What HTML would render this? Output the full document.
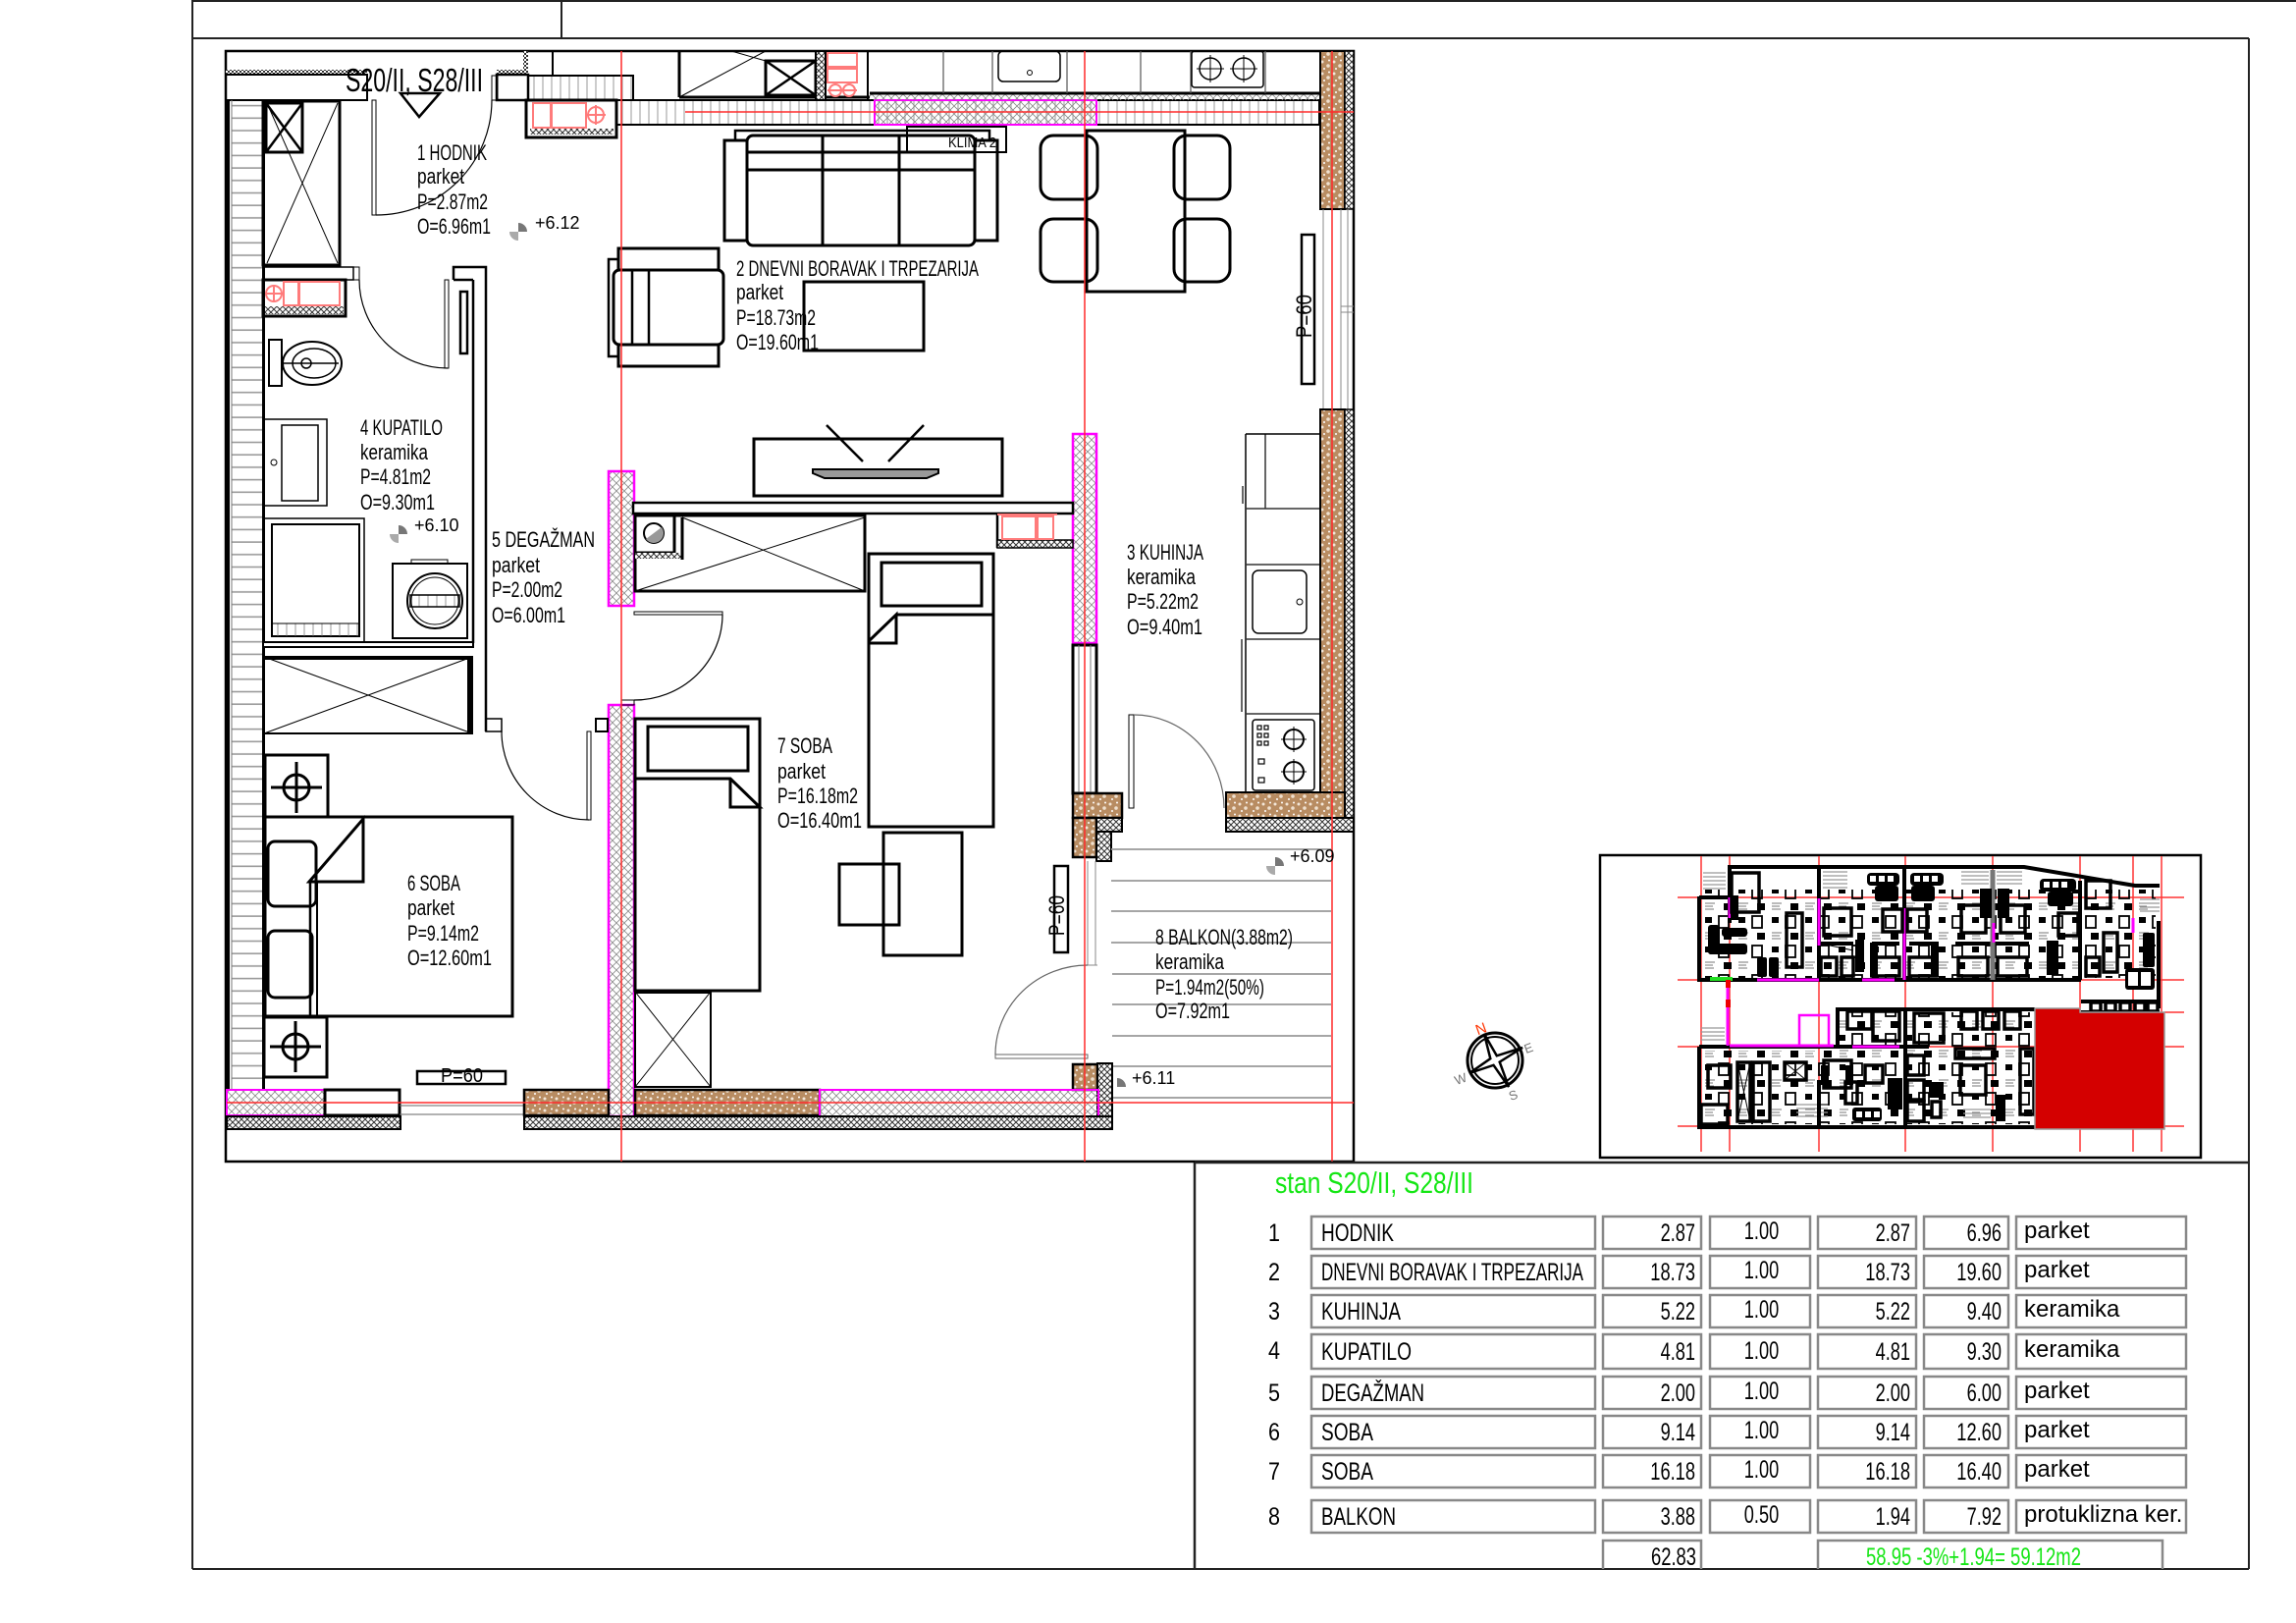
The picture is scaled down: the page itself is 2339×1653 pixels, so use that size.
<!DOCTYPE html>
<html><head><meta charset="utf-8"><title>stan S20/II, S28/III</title>
<style>
html,body{margin:0;padding:0;background:#fff;overflow:hidden}
svg{display:block}
text{font-family:"Liberation Sans",Arial,sans-serif;fill:#000}
.lb{font-size:22px}
.lv{font-size:18px}
.tn{font-size:25px}
.tm{font-size:24px}
</style></head><body>
<svg width="2339" height="1653" viewBox="0 0 2339 1653" xmlns="http://www.w3.org/2000/svg">
<defs>
 <pattern id="vh" width="9" height="10" patternUnits="userSpaceOnUse"><line x1="4" y1="0" x2="4" y2="10" stroke="#9a9a9a" stroke-width="1"/></pattern>
 <pattern id="hh" width="10" height="12.7" patternUnits="userSpaceOnUse"><line x1="0" y1="6" x2="10" y2="6" stroke="#9a9a9a" stroke-width="1.6"/></pattern>
 <pattern id="xh" width="8" height="8" patternUnits="userSpaceOnUse"><path d="M0,0L8,8M8,0L0,8" stroke="#8a8a8a" stroke-width="0.8"/></pattern>
 <pattern id="zz" width="6" height="6" patternUnits="userSpaceOnUse"><rect width="6" height="6" fill="#fff"/><path d="M0,0L6,6M6,0L0,6" stroke="#333" stroke-width="1"/></pattern>
 <pattern id="br" width="12" height="12" patternUnits="userSpaceOnUse"><rect width="12" height="12" fill="#b88c62"/><circle cx="3" cy="3" r="1.5" fill="#f3e6d8"/><circle cx="9" cy="7" r="1.8" fill="#efe0cf"/><circle cx="5" cy="10" r="1" fill="#fff"/><circle cx="10" cy="1.5" r="1" fill="#fff"/></pattern>
 <pattern id="dt" width="4" height="4" patternUnits="userSpaceOnUse"><rect width="4" height="4" fill="#fff"/><rect width="2" height="2" fill="#333"/><rect x="2" y="2" width="2" height="2" fill="#333"/></pattern>
 <pattern id="mm2" width="34" height="30" patternUnits="userSpaceOnUse">
  <rect x="3" y="4" width="7" height="6" fill="#000"/>
  <rect x="17" y="3" width="10" height="12" fill="none" stroke="#000" stroke-width="1.8"/>
  <path d="M3,20H13M3,23H11M3,26H12" stroke="#777" stroke-width="1"/>
  <rect x="22" y="20" width="8" height="7" fill="#000"/>
 </pattern>
</defs>

<!-- page frame -->
<g stroke="#222" stroke-width="2" fill="none">
 <line x1="196" y1="0" x2="196" y2="1598"/>
 <line x1="196" y1="1" x2="2339" y2="1"/>
 <line x1="572" y1="0" x2="572" y2="39"/>
 <line x1="196" y1="39" x2="2291" y2="39"/>
 <line x1="2291" y1="39" x2="2291" y2="1598"/>
 <line x1="196" y1="1598" x2="2291" y2="1598"/>
</g>

<!-- PLAN -->
<rect x="230" y="52" width="1149" height="1131" fill="none" stroke="#000" stroke-width="2.5"/>

<g fill="none" stroke="#000">
 <rect x="230" y="71" width="144" height="5" fill="url(#dt)" stroke="none"/>
 <rect x="506" y="71" width="32" height="5" fill="url(#dt)" stroke="none"/>
 <rect x="533" y="52" width="5" height="24" fill="url(#dt)" stroke="none"/>
 <rect x="230" y="76" width="144" height="26" stroke-width="2"/>
 <rect x="506" y="76" width="32" height="26" stroke-width="2.5"/>
 <rect x="501" y="77" width="6" height="25" stroke-width="1"/>
 <rect x="379" y="102" width="4" height="117" stroke-width="1"/>
 <path d="M501,102 A118 117 0 0 1 383 219" stroke-width="1.2"/>
 <line x1="563" y1="52" x2="563" y2="77" stroke-width="2"/>
 <rect x="538" y="77" width="107" height="25" fill="url(#vh)" stroke-width="2"/>
 <rect x="620" y="102" width="724" height="25" fill="url(#vh)" stroke-width="2"/>
 <rect x="891" y="102" width="226" height="25" fill="url(#xh)" stroke="#f0f" stroke-width="2"/>
 <rect x="536" y="102" width="92" height="38" fill="#fff" stroke-width="3"/>
 <rect x="540" y="131" width="85" height="6" fill="url(#zz)" stroke="none"/>
 <g stroke="#ff7b7b" stroke-width="2">
  <rect x="543" y="105" width="18" height="25"/>
  <rect x="562" y="105" width="35" height="25"/>
  <circle cx="607" cy="117" r="8"/>
  <line x1="597" y1="117" x2="617" y2="117"/><line x1="607" y1="107" x2="607" y2="127"/>
 </g>
 <line x1="692" y1="52" x2="692" y2="99" stroke-width="3"/>
 <line x1="692" y1="99" x2="886" y2="99" stroke-width="3"/>
 <line x1="692" y1="99" x2="780" y2="52" stroke-width="1"/>
 <line x1="745" y1="52" x2="780" y2="62" stroke-width="1"/>
 <rect x="780" y="62" width="51" height="35" stroke-width="3"/>
 <path d="M780,62 L831,97 M831,62 L780,97" stroke-width="2.5"/>
 <rect x="831" y="52" width="10" height="50" fill="url(#zz)" stroke-width="2"/>
 <g stroke="#ff7b7b" stroke-width="2">
  <rect x="843" y="54" width="30" height="14"/>
  <rect x="843" y="70" width="30" height="14"/>
  <circle cx="851" cy="92" r="6"/><circle cx="865" cy="92" r="6"/>
  <line x1="843" y1="92" x2="873" y2="92"/>
 </g>
 <line x1="884" y1="52" x2="884" y2="102" stroke-width="2"/>
 <rect x="886" y="95" width="458" height="7" fill="url(#xh)" stroke="none"/>
 <line x1="886" y1="95" x2="1344" y2="95" stroke-width="3"/>
 <g stroke="#555" stroke-width="1.2">
  <line x1="961" y1="52" x2="961" y2="95"/><line x1="1011" y1="52" x2="1011" y2="95"/>
  <line x1="1087" y1="52" x2="1087" y2="95"/><line x1="1162" y1="52" x2="1162" y2="95"/>
  <line x1="1213" y1="52" x2="1213" y2="95"/><line x1="1289" y1="52" x2="1289" y2="95"/>
 </g>
 <rect x="1017" y="52" width="63" height="31" rx="5" stroke-width="1.5"/>
 <circle cx="1049" cy="74" r="2.5" stroke-width="1"/>
 <rect x="1214" y="52" width="73" height="37" rx="3" stroke-width="1.5"/>
 <circle cx="1233" cy="70" r="11" stroke-width="1.5"/><circle cx="1267" cy="70" r="11" stroke-width="1.5"/>
 <path d="M1233,56V84M1219,70H1247M1267,56V84M1253,70H1281" stroke-width="1"/>

 <rect x="1345" y="52" width="25" height="161" fill="url(#br)" stroke-width="2"/>
 <rect x="1370" y="52" width="9" height="161" fill="url(#zz)" stroke-width="1.5"/>
 <g stroke="#888" stroke-width="1">
  <line x1="1348" y1="213" x2="1348" y2="417"/><line x1="1366" y1="213" x2="1366" y2="417"/><line x1="1373" y1="213" x2="1373" y2="417"/>
  <line x1="1366" y1="312" x2="1379" y2="312"/><line x1="1366" y1="318" x2="1379" y2="318"/>
 </g>
 <rect x="1345" y="417" width="25" height="416" fill="url(#br)" stroke-width="2"/>
 <rect x="1370" y="417" width="9" height="430" fill="url(#zz)" stroke-width="1.5"/>
 <rect x="1249" y="807" width="121" height="26" fill="url(#br)" stroke-width="2"/>
 <rect x="1249" y="833" width="130" height="14" fill="url(#zz)" stroke-width="2"/>
 <rect x="1326" y="239" width="13" height="152" stroke-width="2.5"/>

 <rect x="749" y="133" width="259" height="10" stroke-width="2.5"/>
 <rect x="738" y="143" width="23" height="102" stroke-width="3"/>
 <rect x="993" y="143" width="23" height="102" stroke-width="3"/>
 <rect x="761" y="138" width="232" height="112" rx="6" fill="#fff" stroke-width="3"/>
 <line x1="838" y1="138" x2="838" y2="250" stroke-width="3"/>
 <line x1="916" y1="138" x2="916" y2="250" stroke-width="3"/>
 <line x1="761" y1="155" x2="993" y2="155" stroke-width="3"/>
 <line x1="761" y1="173" x2="993" y2="173" stroke-width="3"/>
 <rect x="924" y="129" width="101" height="26" stroke-width="2"/>
 <rect x="1060" y="138" width="58" height="65" rx="13" stroke-width="3"/>
 <rect x="1060" y="223" width="58" height="64" rx="13" stroke-width="3"/>
 <rect x="1196" y="138" width="57" height="65" rx="13" stroke-width="3"/>
 <rect x="1196" y="223" width="57" height="64" rx="13" stroke-width="3"/>
 <rect x="1107" y="133" width="100" height="164" stroke-width="3"/>
 <rect x="630" y="253" width="102" height="120" stroke-width="3"/>
 <rect x="620" y="264" width="10" height="99" stroke-width="2.5"/>
 <rect x="625" y="275" width="112" height="76" rx="6" fill="#fff" stroke-width="3"/>
 <line x1="644" y1="275" x2="644" y2="351" stroke-width="2.5"/>
 <line x1="661" y1="275" x2="661" y2="351" stroke-width="2.5"/>
 <rect x="819" y="287" width="122" height="70" stroke-width="3"/>
 <rect x="768" y="447" width="253" height="58" stroke-width="3"/>
 <path d="M828,478 H956 V482 L944,487 H840 L828,482 Z" fill="#999" stroke-width="2"/>
 <path d="M842,433 L879,470 M941,433 L905,470" stroke-width="2.5"/>

 <rect x="1093" y="442" width="24" height="213" fill="url(#xh)" stroke="#f0f" stroke-width="2.5"/>
 <rect x="620" y="480" width="26" height="137" fill="url(#xh)" stroke="#f0f" stroke-width="2.5"/>
 <rect x="620" y="718" width="26" height="419" fill="url(#xh)" stroke="#f0f" stroke-width="2.5"/>

 <path d="M1269,442 H1344 M1269,442 V807" stroke-width="1.5"/>
 <line x1="1289" y1="442" x2="1289" y2="518" stroke-width="1.2"/>
 <g stroke="#333" stroke-width="1.5">
  <line x1="1269" y1="518" x2="1344" y2="518"/><line x1="1269" y1="575" x2="1344" y2="575"/>
  <line x1="1269" y1="651" x2="1344" y2="651"/><line x1="1269" y1="727" x2="1344" y2="727"/>
  <line x1="1265" y1="651" x2="1265" y2="725"/><line x1="1266" y1="495" x2="1266" y2="513"/>
 </g>
 <rect x="1276" y="581" width="55" height="64" rx="6" stroke-width="1.5"/>
 <circle cx="1324" cy="613" r="3" stroke-width="1"/>
 <rect x="1276" y="733" width="63" height="72" rx="3" stroke-width="1.5"/>
 <circle cx="1318" cy="753" r="10" stroke-width="2"/><circle cx="1318" cy="786" r="10" stroke-width="2"/>
 <path d="M1318,740V766M1305,753H1331M1318,773V799M1305,786H1331" stroke-width="1"/>
 <g stroke-width="1.2"><rect x="1281" y="739" width="4" height="4"/><rect x="1288" y="739" width="4" height="4"/><rect x="1281" y="747" width="4" height="4"/><rect x="1288" y="747" width="4" height="4"/><rect x="1281" y="755" width="4" height="4"/><rect x="1288" y="755" width="4" height="4"/><rect x="1282" y="773" width="6" height="5"/><rect x="1282" y="792" width="6" height="5"/></g>
 <rect x="1150" y="728" width="5" height="95" stroke-width="1"/>
 <path d="M1155,728 A92 95 0 0 1 1247 823" stroke="#666" stroke-width="1.2"/>

 <rect x="1093" y="657" width="24" height="151" fill="#fff" stroke-width="3"/>
 <line x1="1099" y1="657" x2="1099" y2="808" stroke="#777" stroke-width="1"/>
 <line x1="1111" y1="657" x2="1111" y2="808" stroke="#777" stroke-width="1"/>
 <rect x="1093" y="808" width="50" height="25" fill="url(#br)" stroke-width="2.5"/>
 <rect x="1093" y="833" width="24" height="40" fill="url(#br)" stroke-width="2.5"/>
 <rect x="1117" y="833" width="26" height="14" fill="url(#zz)" stroke-width="2"/>
 <rect x="1117" y="847" width="15" height="30" fill="url(#zz)" stroke-width="2"/>
 <g stroke="#888" stroke-width="1">
  <line x1="1108" y1="877" x2="1108" y2="983"/><line x1="1116" y1="877" x2="1116" y2="983"/>
  <line x1="1108" y1="983" x2="1118" y2="983"/>
 </g>
 <g stroke="#999" stroke-width="1.8">
  <line x1="1132" y1="865" x2="1356" y2="865"/><line x1="1132" y1="897" x2="1356" y2="897"/>
  <line x1="1132" y1="928" x2="1356" y2="928"/><line x1="1132" y1="960" x2="1356" y2="960"/>
  <line x1="1133" y1="992" x2="1356" y2="992"/><line x1="1133" y1="1023" x2="1356" y2="1023"/>
  <line x1="1133" y1="1055" x2="1356" y2="1055"/><line x1="1133" y1="1086" x2="1356" y2="1086"/>
  <line x1="1133" y1="1118" x2="1356" y2="1118"/>
 </g>
 <rect x="1014" y="1074" width="94" height="4" stroke="#666" stroke-width="1"/>
 <path d="M1014,1074 A94 91 0 0 1 1108 983" stroke="#666" stroke-width="1.2"/>
 <rect x="1093" y="1084" width="25" height="26" fill="url(#br)" stroke-width="2.5"/>
 <rect x="1118" y="1083" width="15" height="67" fill="url(#zz)" stroke-width="2"/>

 <rect x="645" y="512" width="448" height="11" fill="#fff" stroke-width="2.5"/>
 <rect x="647" y="525" width="234" height="77" stroke-width="3"/>
 <path d="M695,527 L881,602 M881,527 L647,602" stroke-width="1"/>
 <rect x="647" y="525" width="40" height="38" fill="#fff" stroke-width="3"/>
 <rect x="647" y="563" width="48" height="6" fill="url(#zz)" stroke="none"/>
 <line x1="695" y1="527" x2="695" y2="570" stroke-width="3"/>
 <circle cx="666" cy="543" r="10" stroke-width="2"/>
 <path d="M658,549 L674,537 A10 10 0 0 1 658 549 Z" fill="#999" stroke="none"/>
 <line x1="1016" y1="523" x2="1016" y2="558" stroke-width="2.5"/>
 <rect x="1016" y="550" width="77" height="8" fill="url(#zz)" stroke-width="1.5"/>
 <g stroke="#ff7b7b" stroke-width="2"><rect x="1021" y="526" width="34" height="23"/><rect x="1057" y="526" width="16" height="23"/><line x1="1016" y1="524" x2="1077" y2="524"/></g>
 <rect x="646" y="623" width="90" height="3" stroke-width="1"/>
 <path d="M736,626 A90 87 0 0 1 646 713" stroke-width="1.2"/>
 <rect x="633" y="713" width="13" height="5" stroke-width="1"/>
 <rect x="885" y="564" width="127" height="278" stroke-width="3"/>
 <rect x="898" y="573" width="102" height="44" stroke-width="3"/>
 <path d="M913,626 H1012 M885,653 L913,626 V655 H885" stroke-width="3"/>
 <rect x="647" y="732" width="127" height="277" stroke-width="3"/>
 <rect x="660" y="740" width="102" height="45" stroke-width="3"/>
 <path d="M647,793 H744 L774,822 H744 V793" stroke-width="3"/>
 <rect x="647" y="1010" width="77" height="97" stroke-width="2"/>
 <line x1="647" y1="1010" x2="724" y2="1010" stroke-width="4"/>
 <path d="M647,1010 L724,1107 M724,1010 L647,1107" stroke-width="1"/>
 <rect x="900" y="848" width="80" height="125" stroke-width="3"/>
 <rect x="855" y="880" width="61" height="62" stroke-width="3"/>
 <rect x="1074" y="882" width="14" height="88" stroke-width="2.5"/>

 <rect x="236" y="102" width="31" height="1008" fill="url(#hh)" stroke="none"/>
 <line x1="232" y1="102" x2="232" y2="1110" stroke-width="4"/>
 <line x1="236" y1="102" x2="236" y2="1110" stroke="#777" stroke-width="1"/>
 <line x1="268.5" y1="102" x2="268.5" y2="1110" stroke-width="3"/>
 <rect x="268" y="103" width="78" height="167" stroke-width="3"/>
 <path d="M272,105 L344,268 M344,105 L272,268" stroke-width="1"/>
 <rect x="271" y="105" width="37" height="50" stroke-width="3"/>
 <path d="M271,105 L308,155 M308,105 L271,155" stroke-width="2.5"/>
 <rect x="268" y="272" width="92" height="13" stroke-width="1.5"/>
 <rect x="360" y="272" width="6" height="13" stroke-width="1"/>
 <rect x="268" y="285" width="84" height="37" stroke-width="3"/>
 <rect x="270" y="312" width="80" height="8" fill="url(#zz)" stroke="none"/>
 <g stroke="#ff7b7b" stroke-width="2">
  <rect x="289" y="287" width="15" height="24"/><rect x="305" y="287" width="41" height="24"/>
  <circle cx="279" cy="299" r="8"/><line x1="270" y1="299" x2="288" y2="299"/><line x1="279" y1="290" x2="279" y2="308"/>
 </g>
 <rect x="453" y="285" width="4" height="90" stroke-width="1"/>
 <path d="M366,285 A90 90 0 0 0 456 375" stroke-width="1.2"/>
 <path d="M462,285 V272 H495 V745 M482,285 V655 M462,285 H482" stroke-width="2.5"/>
 <rect x="495" y="732" width="16" height="13" stroke-width="1.5"/>
 <rect x="469" y="297" width="7" height="63" stroke-width="2.5"/>
 <rect x="274" y="346" width="13" height="47" stroke-width="2"/>
 <ellipse cx="318" cy="370" rx="30" ry="22" stroke-width="2"/>
 <ellipse cx="320" cy="370" rx="22" ry="15" stroke-width="1.5"/>
 <circle cx="312" cy="370" r="5" stroke-width="1.5"/>
 <line x1="287" y1="370" x2="345" y2="370" stroke-width="1.5"/>
 <rect x="269" y="427" width="64" height="88" stroke-width="1.5"/>
 <rect x="287" y="433" width="37" height="77" stroke-width="1.5"/>
 <circle cx="279" cy="471" r="3" stroke-width="1"/>
 <rect x="269" y="528" width="102" height="126" stroke-width="1.5"/>
 <rect x="277" y="534" width="89" height="114" stroke-width="2"/>
 <rect x="277" y="635" width="89" height="13" fill="url(#vh)" stroke-width="1"/>
 <rect x="419" y="570" width="37" height="4" stroke-width="1"/>
 <rect x="400" y="574" width="76" height="76" stroke-width="2"/>
 <circle cx="443" cy="612" r="28" stroke-width="2"/>
 <circle cx="443" cy="612" r="24" stroke-width="1"/>
 <rect x="418" y="606" width="50" height="12" fill="url(#vh)" stroke-width="1.5"/>
 <rect x="268" y="654" width="214" height="5" fill="#fff" stroke-width="2"/>
 <rect x="269" y="669" width="212" height="78" stroke-width="2"/>
 <line x1="269" y1="670" x2="481" y2="670" stroke-width="4"/>
 <line x1="478" y1="669" x2="478" y2="747" stroke-width="4"/>
 <path d="M269,669 L481,747 M481,669 L269,747" stroke-width="1"/>
 <rect x="598" y="745" width="4" height="90" stroke-width="1"/>
 <path d="M511,745 A89 90 0 0 0 600 835" stroke-width="1.2"/>
 <rect x="607" y="732" width="12" height="13" stroke-width="2"/>
 <rect x="270" y="769" width="64" height="63" stroke-width="3"/>
 <circle cx="302" cy="802" r="13" stroke-width="3"/>
 <path d="M276,802 H328 M302,776 V828" stroke-width="3"/>
 <rect x="270" y="832" width="252" height="203" stroke-width="3"/>
 <line x1="316" y1="898" x2="316" y2="1035" stroke-width="2.5"/>
 <line x1="323" y1="898" x2="323" y2="1035" stroke-width="2"/>
 <path d="M315,898 L370,834 V898 Z" stroke-width="3"/>
 <rect x="273" y="857" width="49" height="66" rx="7" stroke-width="3"/>
 <rect x="273" y="948" width="45" height="68" rx="7" stroke-width="3"/>
 <rect x="269" y="1036" width="64" height="61" stroke-width="3"/>
 <circle cx="301" cy="1066" r="13" stroke-width="3"/>
 <path d="M275,1066 H327 M301,1040 V1092" stroke-width="3"/>
 <rect x="425" y="1091" width="90" height="13" stroke-width="2.5"/>

 <rect x="231" y="1110" width="100" height="26" fill="url(#xh)" stroke="#f0f" stroke-width="2"/>
 <rect x="331" y="1110" width="76" height="26" fill="#fff" stroke-width="3"/>
 <rect x="231" y="1137" width="177" height="13" fill="url(#zz)" stroke-width="2"/>
 <line x1="407" y1="1126" x2="534" y2="1126" stroke="#666" stroke-width="1"/>
 <line x1="407" y1="1135" x2="534" y2="1135" stroke="#666" stroke-width="1"/>
 <rect x="534" y="1110" width="86" height="26" fill="url(#br)" stroke-width="2.5"/>
 <rect x="647" y="1110" width="188" height="26" fill="url(#br)" stroke-width="2.5"/>
 <rect x="835" y="1110" width="284" height="27" fill="url(#xh)" stroke="#f0f" stroke-width="2"/>
 <rect x="534" y="1137" width="599" height="13" fill="url(#zz)" stroke-width="2"/>
</g>

<path d="M408,95 L448,95 L427,119 Z" fill="none" stroke="#000" stroke-width="2.5"/>

<g>
 <path d="M528,236 L528,227 A9 9 0 0 1 537 236 Z" fill="#777"/><path d="M528,236 L528,245 A9 9 0 0 1 519 236 Z" fill="#aaa"/>
 <path d="M406,544 L406,535 A9 9 0 0 1 415 544 Z" fill="#777"/><path d="M406,544 L406,553 A9 9 0 0 1 397 544 Z" fill="#aaa"/>
 <path d="M1299,882 L1299,873 A9 9 0 0 1 1308 882 Z" fill="#777"/><path d="M1299,882 L1299,891 A9 9 0 0 1 1290 882 Z" fill="#aaa"/>
 <path d="M1138,1107 L1138,1098 A9 9 0 0 1 1147 1107 Z" fill="#777"/>
</g>

<g stroke="#ff2a2a" stroke-width="1.5">
 <line x1="633" y1="52" x2="633" y2="1183"/>
 <line x1="1105" y1="52" x2="1105" y2="1183"/>
 <line x1="1357" y1="52" x2="1357" y2="1183"/>
 <line x1="698" y1="114" x2="1379" y2="114"/>
 <line x1="231" y1="1123" x2="1379" y2="1123"/>
</g>

<text x="352" y="93" font-size="33" textLength="140" lengthAdjust="spacingAndGlyphs">S20/II, S28/III</text>
<text x="966" y="150" font-size="15" textLength="49" lengthAdjust="spacingAndGlyphs">KLIMA 2</text>

<g class="lb">
<text x="425" y="163" textLength="71" lengthAdjust="spacingAndGlyphs">1 HODNIK</text>
<text x="425" y="187" textLength="48" lengthAdjust="spacingAndGlyphs">parket</text>
<text x="425" y="213" textLength="72" lengthAdjust="spacingAndGlyphs">P=2.87m2</text>
<text x="425" y="238" textLength="75" lengthAdjust="spacingAndGlyphs">O=6.96m1</text>

<text x="750" y="281" textLength="247" lengthAdjust="spacingAndGlyphs">2 DNEVNI BORAVAK I TRPEZARIJA</text>
<text x="750" y="305" textLength="48" lengthAdjust="spacingAndGlyphs">parket</text>
<text x="750" y="331" textLength="81" lengthAdjust="spacingAndGlyphs">P=18.73m2</text>
<text x="750" y="356" textLength="84" lengthAdjust="spacingAndGlyphs">O=19.60m1</text>

<text x="367" y="443" textLength="84" lengthAdjust="spacingAndGlyphs">4 KUPATILO</text>
<text x="367" y="468" textLength="69" lengthAdjust="spacingAndGlyphs">keramika</text>
<text x="367" y="493" textLength="72" lengthAdjust="spacingAndGlyphs">P=4.81m2</text>
<text x="367" y="519" textLength="76" lengthAdjust="spacingAndGlyphs">O=9.30m1</text>

<text x="501" y="557" textLength="105" lengthAdjust="spacingAndGlyphs">5 DEGAŽMAN</text>
<text x="501" y="583" textLength="49" lengthAdjust="spacingAndGlyphs">parket</text>
<text x="501" y="608" textLength="72" lengthAdjust="spacingAndGlyphs">P=2.00m2</text>
<text x="501" y="634" textLength="75" lengthAdjust="spacingAndGlyphs">O=6.00m1</text>

<text x="415" y="907" textLength="54" lengthAdjust="spacingAndGlyphs">6 SOBA</text>
<text x="415" y="932" textLength="48" lengthAdjust="spacingAndGlyphs">parket</text>
<text x="415" y="958" textLength="73" lengthAdjust="spacingAndGlyphs">P=9.14m2</text>
<text x="415" y="983" textLength="86" lengthAdjust="spacingAndGlyphs">O=12.60m1</text>

<text x="792" y="767" textLength="56" lengthAdjust="spacingAndGlyphs">7 SOBA</text>
<text x="792" y="793" textLength="49" lengthAdjust="spacingAndGlyphs">parket</text>
<text x="792" y="818" textLength="82" lengthAdjust="spacingAndGlyphs">P=16.18m2</text>
<text x="792" y="843" textLength="86" lengthAdjust="spacingAndGlyphs">O=16.40m1</text>

<text x="1148" y="570" textLength="78" lengthAdjust="spacingAndGlyphs">3 KUHINJA</text>
<text x="1148" y="595" textLength="70" lengthAdjust="spacingAndGlyphs">keramika</text>
<text x="1148" y="620" textLength="73" lengthAdjust="spacingAndGlyphs">P=5.22m2</text>
<text x="1148" y="646" textLength="77" lengthAdjust="spacingAndGlyphs">O=9.40m1</text>

<text x="1177" y="962" textLength="140" lengthAdjust="spacingAndGlyphs">8 BALKON(3.88m2)</text>
<text x="1177" y="987" textLength="70" lengthAdjust="spacingAndGlyphs">keramika</text>
<text x="1177" y="1013" textLength="111" lengthAdjust="spacingAndGlyphs">P=1.94m2(50%)</text>
<text x="1177" y="1037" textLength="76" lengthAdjust="spacingAndGlyphs">O=7.92m1</text>

<text x="449" y="1102" font-size="20" textLength="43" lengthAdjust="spacingAndGlyphs">P=60</text>
<text transform="translate(1336,344) rotate(-90)" textLength="44" lengthAdjust="spacingAndGlyphs">P=60</text>
<text transform="translate(1084,953) rotate(-90)" textLength="41" lengthAdjust="spacingAndGlyphs">P=60</text>
</g>
<g class="lv">
<text x="545" y="233">+6.12</text>
<text x="422" y="541">+6.10</text>
<text x="1314" y="878">+6.09</text>
<text x="1153" y="1104">+6.11</text>
</g>

<!-- compass -->
<g>
 <circle cx="1523" cy="1080" r="28" stroke="#000" stroke-width="3" fill="none"/>
 <circle cx="1523" cy="1080" r="24" stroke="#000" stroke-width="2" fill="none"/>
 <path d="M1512,1053 L1524.8,1075.3 L1551,1067 L1527.7,1081.6 L1537,1107 L1521.5,1084.8 L1497,1093 L1518.3,1078.2 Z" fill="#fff" stroke="#000" stroke-width="2.5"/>
 <text x="1503" y="1053" font-size="15" style="fill:#ff3300" transform="rotate(-20 1508 1047)">N</text>
 <text x="1553" y="1072" font-size="13" style="fill:#777" transform="rotate(-20 1557 1068)">E</text>
 <text x="1537" y="1120" font-size="13" style="fill:#777" transform="rotate(-20 1541 1115)">S</text>
 <text x="1482" y="1103" font-size="13" style="fill:#777" transform="rotate(-20 1489 1099)">W</text>
</g>

<!-- MINIMAP -->
<g>
 <rect x="1630" y="871" width="612" height="308" fill="#fff" stroke="#000" stroke-width="2.5"/>
 <g stroke="#f33" stroke-width="1.5">
  <line x1="1733" y1="872" x2="1733" y2="1173"/><line x1="1762" y1="872" x2="1762" y2="1173"/>
  <line x1="1853" y1="872" x2="1853" y2="1173"/><line x1="1941" y1="872" x2="1941" y2="1173"/>
  <line x1="2030" y1="872" x2="2030" y2="1173"/><line x1="2119" y1="872" x2="2119" y2="1173"/>
  <line x1="2173" y1="872" x2="2173" y2="1173"/><line x1="2202" y1="872" x2="2202" y2="1173"/>
  <line x1="1709" y1="914" x2="2225" y2="914"/><line x1="1709" y1="998" x2="2225" y2="998"/>
  <line x1="1709" y1="1066" x2="2225" y2="1066"/><line x1="1709" y1="1147" x2="2225" y2="1147"/>
  <line x1="2205" y1="1031" x2="2225" y2="1031"/>
 </g>
 <!-- light texture for dense drawing -->
 <rect x="1736" y="906" width="460" height="90" fill="url(#mm2)"/>
 <rect x="1874" y="1031" width="198" height="114" fill="url(#mm2)"/>
 <rect x="1736" y="1070" width="132" height="75" fill="url(#mm2)"/>
 <g stroke="#999" stroke-width="1.2">
  <path d="M1735,889H1758M1735,893H1758M1735,897H1758M1735,901H1758M1735,905H1758"/>
  <path d="M1857,888H1882M1857,892H1882M1857,896H1882M1857,900H1882M1857,904H1882"/>
  <path d="M1998,888H2026M1998,892H2026M1998,896H2026M1998,900H2026M2034,888H2060M2034,892H2060M2034,896H2060M2034,900H2060"/>
  <path d="M2180,916H2200M2180,920H2200M2180,924H2200M2180,928H2200"/>
  <path d="M1733,1047H1757M1733,1051H1757M1733,1055H1757M1733,1059H1757"/>
  <path d="M1830,1125H1862M1830,1129H1862M1830,1133H1862M1830,1137H1862"/>
  <path d="M2000,1130H2028M2000,1134H2028M2000,1138H2028"/>
 </g>
 <g stroke="#000" stroke-width="4" fill="none">
  <path d="M1760,883 H2062 L2175,902 H2200"/>
  <path d="M1731,913 V998 H2120"/>
  <path d="M2199,938 V1027"/>
  <path d="M1762,883 V940 M1731,914 H1762"/>
  <path d="M1853,883 V998"/>
  <path d="M1940,885 V998"/>
  <path d="M2119,897 V998"/>
  <path d="M1870,1028 H2073"/>
  <path d="M1731,1066 V1148 H2073"/>
  <path d="M1731,1066 H1965"/>
  <path d="M1941,1028 V1148"/>
  <path d="M1872,1028 V1066"/>
  <path d="M1853,1100 V1148"/>
  <path d="M1855,961 H1888 M1992,961 H2067 M1907,961 H1935 M1945,961 H1975"/>
  <path d="M2120,1020 H2200 M2120,1031 H2200"/>
 </g>
 <line x1="2030" y1="886" x2="2030" y2="998" stroke="#777" stroke-width="5"/>
 <g stroke="#f0f" stroke-width="3" fill="none">
  <path d="M1762,914 V935 M1853,915 V963 M1940,925 V998 M1790,998 H1853 M1897,998 H1930 M2031,940 V960 M2173,935 V950 M1887,1066 H1935 M1760,1000 V1065 M1762,1065 H1868"/>
 </g>
 <g fill="#000">
  <rect x="1740" y="942" width="12" height="30" rx="3"/><rect x="1740" y="961" width="40" height="11" rx="3"/><rect x="1754" y="945" width="26" height="9" rx="3"/>
  <rect x="1902" y="889" width="33" height="13" rx="4"/><rect x="1910" y="902" width="24" height="16" rx="3"/>
  <rect x="1946" y="889" width="34" height="13" rx="4"/><rect x="1947" y="902" width="24" height="16" rx="3"/>
  <rect x="2078" y="895" width="37" height="13" rx="4"/><rect x="2086" y="908" width="26" height="15" rx="3"/>
  <rect x="1790" y="975" width="10" height="20" rx="2"/><rect x="1802" y="975" width="10" height="20" rx="2"/>
  <rect x="1905" y="960" width="8" height="35"/><rect x="1967" y="960" width="8" height="35"/>
  <rect x="1890" y="957" width="9" height="33"/>
  <rect x="2183" y="950" width="12" height="35" rx="2"/><rect x="2165" y="986" width="30" height="22" rx="3"/>
  <rect x="2085" y="958" width="12" height="35"/>
  <rect x="1887" y="1128" width="30" height="14" rx="3"/>
  <rect x="1923" y="1098" width="15" height="32"/>
  <rect x="1965" y="1102" width="15" height="16"/>
  <rect x="2033" y="1115" width="10" height="27"/>
  <rect x="1855" y="1085" width="8" height="20"/><rect x="1880" y="1085" width="8" height="20"/>
  <rect x="1763" y="912" width="8" height="25"/><rect x="2017" y="905" width="12" height="30"/><rect x="2035" y="905" width="12" height="30"/>
 </g>
 <g fill="#fff">
  <rect x="1905" y="892" width="6" height="6"/><rect x="1914" y="892" width="6" height="6"/><rect x="1923" y="892" width="6" height="6"/>
  <rect x="1950" y="892" width="6" height="6"/><rect x="1959" y="892" width="6" height="6"/><rect x="1968" y="892" width="6" height="6"/>
  <rect x="2082" y="898" width="6" height="6"/><rect x="2091" y="898" width="6" height="6"/><rect x="2100" y="898" width="6" height="6"/>
  <rect x="1891" y="1132" width="6" height="6"/><rect x="1900" y="1132" width="6" height="6"/><rect x="1909" y="1132" width="6" height="6"/>
  <rect x="2168" y="990" width="10" height="14"/><rect x="2181" y="990" width="10" height="14"/>
 </g>
 <g fill="none" stroke="#000" stroke-width="3.5">
  <rect x="1918" y="926" width="20" height="23"/><rect x="1943" y="926" width="20" height="23"/><rect x="2097" y="930" width="20" height="23"/>
  <rect x="1764" y="889" width="28" height="40"/><rect x="1858" y="925" width="28" height="28"/>
  <rect x="1998" y="922" width="25" height="28"/><rect x="2038" y="922" width="25" height="28"/>
  <rect x="2125" y="897" width="25" height="28"/>
  <rect x="1820" y="930" width="16" height="55"/>
  <rect x="1855" y="975" width="16" height="19"/><rect x="1876" y="975" width="12" height="19"/>
  <rect x="1907" y="975" width="28" height="19"/><rect x="1945" y="975" width="28" height="19"/>
  <rect x="1995" y="975" width="30" height="19"/><rect x="2035" y="975" width="30" height="19"/>
  <rect x="2125" y="975" width="14" height="19"/><rect x="2143" y="950" width="14" height="40"/>
  <rect x="2130" y="1021" width="10" height="9"/><rect x="2145" y="1021" width="10" height="9"/><rect x="2160" y="1021" width="10" height="9"/><rect x="2175" y="1021" width="10" height="9"/><rect x="2188" y="1021" width="10" height="9"/>
  <rect x="1943" y="1075" width="17" height="20"/><rect x="1943" y="1100" width="17" height="20"/><rect x="1943" y="1122" width="17" height="20"/>
  <rect x="1968" y="1122" width="9" height="16"/>
  <rect x="1992" y="1068" width="40" height="10"/><rect x="1997" y="1085" width="26" height="30"/>
  <rect x="2058" y="1068" width="14" height="67"/>
  <rect x="1740" y="1085" width="23" height="23"/><rect x="1770" y="1082" width="13" height="60"/><rect x="1786" y="1082" width="17" height="60"/>
  <rect x="1818" y="1082" width="22" height="18"/><rect x="1858" y="1080" width="28" height="28"/>
  <rect x="1733" y="1125" width="27" height="20"/>
  <rect x="1882" y="1030" width="25" height="18"/><rect x="1908" y="1030" width="27" height="30"/>
  <rect x="1950" y="1032" width="30" height="30"/>
  <rect x="1998" y="1030" width="16" height="18"/><rect x="2020" y="1030" width="16" height="18"/><rect x="2042" y="1030" width="16" height="18"/>
  <rect x="1880" y="1102" width="12" height="22"/><rect x="1900" y="1085" width="18" height="18"/>
 </g>
 <g stroke="#000" stroke-width="1">
  <path d="M1770,1082 L1783,1142 M1783,1082 L1770,1142 M1818,1082 L1840,1100 M1840,1082 L1818,1100 M1855,961 L1888,968"/>
 </g>
 <rect x="1833" y="1034" width="30" height="31" fill="none" stroke="#f0f" stroke-width="2.5"/>
 <line x1="1742" y1="997" x2="1765" y2="997" stroke="#2d2" stroke-width="4"/>
 <rect x="1758" y="998" width="5" height="8" fill="#e00"/>
 <rect x="1758" y="1018" width="5" height="8" fill="#e00"/>
 <path d="M2073,1027 H2119 V1031 H2205 V1150 H2073 Z" fill="#d40000" stroke="#999" stroke-width="1.5"/>
</g>

<!-- TABLE -->
<g stroke="#222" stroke-width="2.5" fill="none">
 <line x1="1217" y1="1184" x2="2291" y2="1184"/>
 <line x1="1217" y1="1184" x2="1217" y2="1598"/>
</g>
<text x="1299" y="1215" font-size="31" style="fill:#14e614" textLength="202" lengthAdjust="spacingAndGlyphs">stan S20/II, S28/III</text>

<g stroke="#888" stroke-width="2.5" fill="none">
 <rect x="1336" y="1239" width="289" height="33"/><rect x="1633" y="1239" width="100" height="33"/><rect x="1742" y="1239" width="102" height="33"/><rect x="1852" y="1239" width="100" height="33"/><rect x="1960" y="1239" width="86" height="33"/><rect x="2054" y="1239" width="173" height="33"/>
 <rect x="1336" y="1279" width="289" height="33"/><rect x="1633" y="1279" width="100" height="33"/><rect x="1742" y="1279" width="102" height="33"/><rect x="1852" y="1279" width="100" height="33"/><rect x="1960" y="1279" width="86" height="33"/><rect x="2054" y="1279" width="173" height="33"/>
 <rect x="1336" y="1319" width="289" height="33"/><rect x="1633" y="1319" width="100" height="33"/><rect x="1742" y="1319" width="102" height="33"/><rect x="1852" y="1319" width="100" height="33"/><rect x="1960" y="1319" width="86" height="33"/><rect x="2054" y="1319" width="173" height="33"/>
 <rect x="1336" y="1359" width="289" height="35"/><rect x="1633" y="1359" width="100" height="35"/><rect x="1742" y="1359" width="102" height="35"/><rect x="1852" y="1359" width="100" height="35"/><rect x="1960" y="1359" width="86" height="35"/><rect x="2054" y="1359" width="173" height="35"/>
 <rect x="1336" y="1402" width="289" height="33"/><rect x="1633" y="1402" width="100" height="33"/><rect x="1742" y="1402" width="102" height="33"/><rect x="1852" y="1402" width="100" height="33"/><rect x="1960" y="1402" width="86" height="33"/><rect x="2054" y="1402" width="173" height="33"/>
 <rect x="1336" y="1442" width="289" height="33"/><rect x="1633" y="1442" width="100" height="33"/><rect x="1742" y="1442" width="102" height="33"/><rect x="1852" y="1442" width="100" height="33"/><rect x="1960" y="1442" width="86" height="33"/><rect x="2054" y="1442" width="173" height="33"/>
 <rect x="1336" y="1482" width="289" height="33"/><rect x="1633" y="1482" width="100" height="33"/><rect x="1742" y="1482" width="102" height="33"/><rect x="1852" y="1482" width="100" height="33"/><rect x="1960" y="1482" width="86" height="33"/><rect x="2054" y="1482" width="173" height="33"/>
 <rect x="1336" y="1528" width="289" height="33"/><rect x="1633" y="1528" width="100" height="33"/><rect x="1742" y="1528" width="102" height="33"/><rect x="1852" y="1528" width="100" height="33"/><rect x="1960" y="1528" width="86" height="33"/><rect x="2054" y="1528" width="173" height="33"/>
 <path d="M1633,1598 V1569 H1733 V1598 M1852,1598 V1569 H2203 V1598"/>
</g>

<g class="tn" text-anchor="middle">
 <text x="1298" y="1264" textLength="12" lengthAdjust="spacingAndGlyphs">1</text>
 <text x="1298" y="1304" textLength="12" lengthAdjust="spacingAndGlyphs">2</text>
 <text x="1298" y="1344" textLength="12" lengthAdjust="spacingAndGlyphs">3</text>
 <text x="1298" y="1384" textLength="12" lengthAdjust="spacingAndGlyphs">4</text>
 <text x="1298" y="1427" textLength="12" lengthAdjust="spacingAndGlyphs">5</text>
 <text x="1298" y="1467" textLength="12" lengthAdjust="spacingAndGlyphs">6</text>
 <text x="1298" y="1507" textLength="12" lengthAdjust="spacingAndGlyphs">7</text>
 <text x="1298" y="1553" textLength="12" lengthAdjust="spacingAndGlyphs">8</text>
</g>
<g class="tn">
 <text x="1346" y="1264" textLength="74" lengthAdjust="spacingAndGlyphs">HODNIK</text>
 <text x="1346" y="1304" textLength="267" lengthAdjust="spacingAndGlyphs">DNEVNI BORAVAK I TRPEZARIJA</text>
 <text x="1346" y="1344" textLength="81" lengthAdjust="spacingAndGlyphs">KUHINJA</text>
 <text x="1346" y="1385" textLength="92" lengthAdjust="spacingAndGlyphs">KUPATILO</text>
 <text x="1346" y="1427" textLength="105" lengthAdjust="spacingAndGlyphs">DEGAŽMAN</text>
 <text x="1346" y="1467" textLength="53" lengthAdjust="spacingAndGlyphs">SOBA</text>
 <text x="1346" y="1507" textLength="53" lengthAdjust="spacingAndGlyphs">SOBA</text>
 <text x="1346" y="1553" textLength="76" lengthAdjust="spacingAndGlyphs">BALKON</text>

 <text x="1691.6" y="1264" textLength="35.4" lengthAdjust="spacingAndGlyphs">2.87</text>
 <text x="1681.3" y="1304" textLength="45.7" lengthAdjust="spacingAndGlyphs">18.73</text>
 <text x="1691.6" y="1344" textLength="35.4" lengthAdjust="spacingAndGlyphs">5.22</text>
 <text x="1691.6" y="1385" textLength="35.4" lengthAdjust="spacingAndGlyphs">4.81</text>
 <text x="1691.6" y="1427" textLength="35.4" lengthAdjust="spacingAndGlyphs">2.00</text>
 <text x="1691.6" y="1467" textLength="35.4" lengthAdjust="spacingAndGlyphs">9.14</text>
 <text x="1681.3" y="1507" textLength="45.7" lengthAdjust="spacingAndGlyphs">16.18</text>
 <text x="1691.6" y="1553" textLength="35.4" lengthAdjust="spacingAndGlyphs">3.88</text>

 <text x="1776.8" y="1262" textLength="35.4" lengthAdjust="spacingAndGlyphs">1.00</text>
 <text x="1776.8" y="1302" textLength="35.4" lengthAdjust="spacingAndGlyphs">1.00</text>
 <text x="1776.8" y="1342" textLength="35.4" lengthAdjust="spacingAndGlyphs">1.00</text>
 <text x="1776.8" y="1384" textLength="35.4" lengthAdjust="spacingAndGlyphs">1.00</text>
 <text x="1776.8" y="1425" textLength="35.4" lengthAdjust="spacingAndGlyphs">1.00</text>
 <text x="1776.8" y="1465" textLength="35.4" lengthAdjust="spacingAndGlyphs">1.00</text>
 <text x="1776.8" y="1505" textLength="35.4" lengthAdjust="spacingAndGlyphs">1.00</text>
 <text x="1776.8" y="1551" textLength="35.4" lengthAdjust="spacingAndGlyphs">0.50</text>

 <text x="1910.6" y="1264" textLength="35.4" lengthAdjust="spacingAndGlyphs">2.87</text>
 <text x="1900.3" y="1304" textLength="45.7" lengthAdjust="spacingAndGlyphs">18.73</text>
 <text x="1910.6" y="1344" textLength="35.4" lengthAdjust="spacingAndGlyphs">5.22</text>
 <text x="1910.6" y="1385" textLength="35.4" lengthAdjust="spacingAndGlyphs">4.81</text>
 <text x="1910.6" y="1427" textLength="35.4" lengthAdjust="spacingAndGlyphs">2.00</text>
 <text x="1910.6" y="1467" textLength="35.4" lengthAdjust="spacingAndGlyphs">9.14</text>
 <text x="1900.3" y="1507" textLength="45.7" lengthAdjust="spacingAndGlyphs">16.18</text>
 <text x="1910.6" y="1553" textLength="35.4" lengthAdjust="spacingAndGlyphs">1.94</text>

 <text x="2003.6" y="1264" textLength="35.4" lengthAdjust="spacingAndGlyphs">6.96</text>
 <text x="1993.3" y="1304" textLength="45.7" lengthAdjust="spacingAndGlyphs">19.60</text>
 <text x="2003.6" y="1344" textLength="35.4" lengthAdjust="spacingAndGlyphs">9.40</text>
 <text x="2003.6" y="1385" textLength="35.4" lengthAdjust="spacingAndGlyphs">9.30</text>
 <text x="2003.6" y="1427" textLength="35.4" lengthAdjust="spacingAndGlyphs">6.00</text>
 <text x="1993.3" y="1467" textLength="45.7" lengthAdjust="spacingAndGlyphs">12.60</text>
 <text x="1993.3" y="1507" textLength="45.7" lengthAdjust="spacingAndGlyphs">16.40</text>
 <text x="2003.6" y="1553" textLength="35.4" lengthAdjust="spacingAndGlyphs">7.92</text>

 <text x="1682" y="1594" textLength="46" lengthAdjust="spacingAndGlyphs">62.83</text>
 <text x="1901" y="1594" style="fill:#14e614" textLength="219" lengthAdjust="spacingAndGlyphs">58.95 -3%+1.94= 59.12m2</text>
</g>
<g class="tm">
 <text x="2062" y="1261">parket</text>
 <text x="2062" y="1301">parket</text>
 <text x="2062" y="1341">keramika</text>
 <text x="2062" y="1382">keramika</text>
 <text x="2062" y="1424">parket</text>
 <text x="2062" y="1464">parket</text>
 <text x="2062" y="1504">parket</text>
 <text x="2062" y="1550">protuklizna ker.</text>
</g>
</svg>
</body></html>
